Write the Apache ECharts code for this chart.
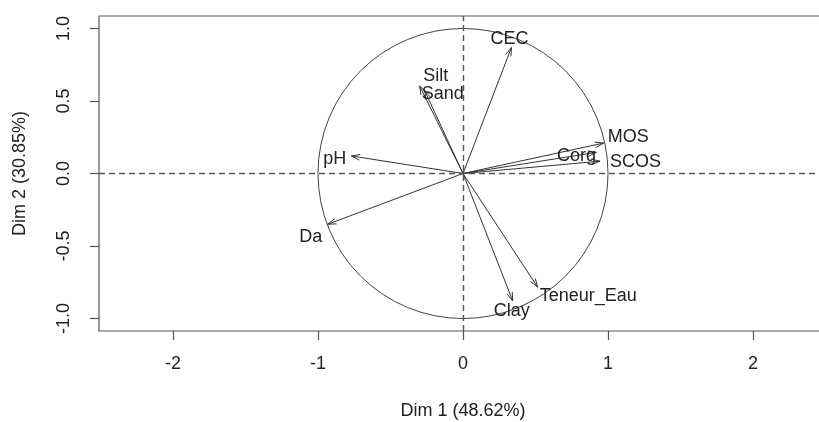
<!DOCTYPE html>
<html>
<head>
<meta charset="utf-8">
<script src="https://cdn.jsdelivr.net/npm/echarts@6/dist/echarts.min.js"></script>
<style>
  html, body { margin: 0; padding: 0; background: #fff; }
  #chart { width: 819px; height: 422px; }
</style>
</head>
<body>
<div id="chart"></div>
<script>
// Variable loadings on the first two principal dimensions
const variables = ['CEC', 'Silt', 'Sand', 'pH', 'MOS', 'Corg', 'SCOS', 'Da', 'Clay', 'Teneur_Eau'];
const dim1 = [0.334, -0.299, -0.263, -0.770, 0.970, 0.920, 0.945, -0.933, 0.343, 0.515];
const dim2 = [0.869, 0.604, 0.568, 0.121, 0.210, 0.146, 0.085, -0.350, -0.879, -0.784];

// Axis ticks and titles
const xTicks = [-2, -1, 0, 1, 2];
const yTicks = [-1, -0.5, 0, 0.5, 1];
const xTitle = 'Dim 1 (48.62%)';
const yTitle = 'Dim 2 (30.85%)';

// Label offsets (px) from each arrow tip, and text alignment
const labelPlacement = {
  'CEC':        [-2, -8, 'center'],
  'Silt':       [16, -10, 'center'],
  'Sand':       [18, 3, 'center'],
  'pH':         [-5, 3, 'right'],
  'MOS':        [4, -6, 'left'],
  'Corg':       [-20, 4, 'center'],
  'SCOS':       [10, 1, 'left'],
  'Da':         [-17, 13, 'center'],
  'Clay':       [-1, 10, 'center'],
  'Teneur_Eau': [2, 9, 'left']
};

const FONT = '"Liberation Sans", Arial, sans-serif';
const TEXT = '#222';
const INK = '#333';

const arrowData = variables.map((n, i) => [dim1[i], dim2[i]]);

const chart = echarts.init(document.getElementById('chart'), null, { renderer: 'canvas' });

chart.setOption({
  animation: false,
  backgroundColor: '#fff',
  grid: {
    left: 99, top: 16, width: 728, height: 315,
    outerBoundsMode: 'none', containLabel: false,
    show: true, borderColor: '#555', borderWidth: 1.2, backgroundColor: 'transparent'
  },
  xAxis: {
    type: 'value', min: -2.51, max: 2.51,
    splitLine: { show: false },
    axisLine: { show: false, onZero: false },
    axisTick: { show: true, customValues: xTicks, length: 9, lineStyle: { color: '#555', width: 1.2 } },
    axisLabel: {
      customValues: xTicks, margin: 24, fontSize: 18, fontFamily: FONT, color: TEXT,
      formatter: v => String(v)
    },
    name: xTitle, nameLocation: 'middle', nameGap: 71,
    nameTextStyle: { fontSize: 18, fontFamily: FONT, color: TEXT }
  },
  yAxis: {
    type: 'value', min: -1.086, max: 1.086,
    splitLine: { show: false },
    axisLine: { show: false, onZero: false },
    axisTick: { show: true, customValues: yTicks, length: 9, lineStyle: { color: '#555', width: 1.2 } },
    axisLabel: {
      customValues: yTicks, margin: 26, rotate: 90, fontSize: 18, fontFamily: FONT, color: TEXT,
      formatter: v => v.toFixed(1)
    },
    name: yTitle, nameLocation: 'middle', nameGap: 70, nameRotate: 90,
    nameTextStyle: { fontSize: 18, fontFamily: FONT, color: TEXT }
  },
  series: [
    {
      // unit correlation circle
      type: 'custom',
      data: [[0, 0]],
      silent: true,
      renderItem: function (params, api) {
        const c = api.coord([api.value(0), api.value(1)]);
        const r = api.size([1, 1])[0];
        return {
          type: 'circle',
          shape: { cx: c[0], cy: c[1], r: r },
          style: { fill: 'none', stroke: '#444', lineWidth: 1 }
        };
      },
      markLine: {
        silent: true,
        symbol: 'none',
        label: { show: false },
        lineStyle: { color: '#555', type: [6, 4], width: 1.4 },
        data: [{ xAxis: 0 }, { yAxis: 0 }]
      }
    },
    {
      // loading arrows with variable names
      type: 'custom',
      data: arrowData,
      silent: true,
      renderItem: function (params, api) {
        const name = variables[params.dataIndex];
        const o = api.coord([0, 0]);
        const t = api.coord([api.value(0), api.value(1)]);
        const ang = Math.atan2(t[1] - o[1], t[0] - o[0]);
        const L = 9, A = 18 * Math.PI / 180;
        const h1 = [t[0] - L * Math.cos(ang - A), t[1] - L * Math.sin(ang - A)];
        const h2 = [t[0] - L * Math.cos(ang + A), t[1] - L * Math.sin(ang + A)];
        const lp = labelPlacement[name];
        return {
          type: 'group',
          children: [
            { type: 'line', shape: { x1: o[0], y1: o[1], x2: t[0], y2: t[1] },
              style: { stroke: INK, lineWidth: 1 } },
            { type: 'polyline', shape: { points: [h1, t, h2] },
              style: { stroke: INK, lineWidth: 1, fill: null } },
            { type: 'text', x: t[0] + lp[0], y: t[1] + lp[1],
              style: { text: name, align: lp[2], verticalAlign: 'middle',
                       fontSize: 18, fontFamily: FONT, fill: TEXT } }
          ]
        };
      }
    }
  ]
});
</script>
</body>
</html>
